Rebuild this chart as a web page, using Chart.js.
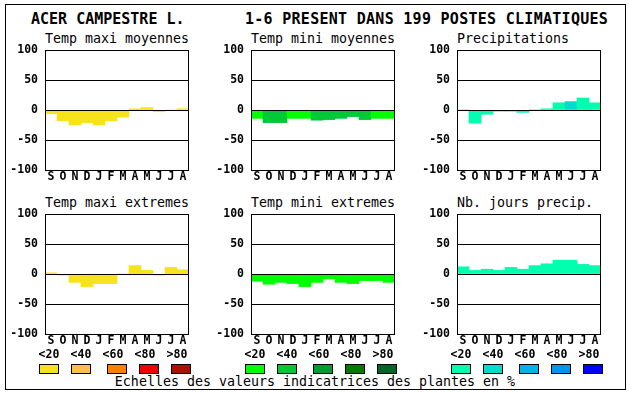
<!DOCTYPE html>
<html>
<head>
<meta charset="utf-8">
<script src="https://cdn.jsdelivr.net/npm/chart.js@4"></script>
<style>
  body { margin: 0; background: #fff; }
  #page { position: relative; width: 630px; height: 394px; overflow: hidden;
          font-family: "DejaVu Sans Mono", monospace; color: #000; }
  #cadre { position: absolute; left: 5px; top: 4px; width: 619px; height: 384px; border: 1px solid #000; }
  .txt { position: absolute; white-space: pre; line-height: 1; }
  .titre { font-size: 15px; font-weight: bold; top: 12px; }
  .sous { font-size: 13.3px; }
  .niv { font-size: 11.5px; font-weight: bold; top: 349px; width: 30px; margin-left: -15px; text-align: center; }
  .case { position: absolute; top: 364px; width: 18px; height: 8px; border: 1px solid #000; }
  canvas { position: absolute; }
</style>
</head>
<body>
<div id="page">
  <div id="cadre"></div>
  <div class="txt titre" style="left:31px">ACER CAMPESTRE L.</div>
  <div class="txt titre" style="left:245px;letter-spacing:0.28px">1-6 PRESENT DANS 199 POSTES CLIMATIQUES</div>
  <div class="txt sous" style="left:0;width:630px;text-align:center;top:375px">Echelles des valeurs indicatrices des plantes en %</div>
</div>
<script>
// mois de septembre à août
var MOIS = ["S", "O", "N", "D", "J", "F", "M", "A", "M", "J", "J", "A"];
var NIVEAUX = ["<20", "<40", "<60", "<80", ">80"];

// valeurs lues sur chaque graphique
var tempMaxiMoy = [-6, -18, -25, -21, -25, -18, -12, 2, 4, -3, 0, 2];
var tempMiniMoy = [-14, -21, -21, -14, -14, -17, -16, -14, -11, -16, -14, -14];
var precip      = [0, -22, -7, -2, -2, -4, 0, 2, 12, 14, 20, 12];
var tempMaxiExt = [2, -2, -14, -21, -16, -16, 0, 14, 6, -2, 11, 7];
var tempMiniExt = [-12, -17, -14, -16, -21, -14, -8, -14, -16, -11, -11, -14];
var joursPrecip = [12, 6, 8, 6, 11, 8, 14, 17, 23, 23, 16, 14];

// classe de chaque barre (0 = <20 ... 4 = >80)
var classeMaxiMoy = [0, 0, 0, 0, 0, 0, 0, 0, 0, 0, 0, 0];
var classeMiniMoy = [0, 1, 1, 0, 0, 1, 1, 1, 1, 1, 0, 0];
var classePrecip  = [0, 0, 0, 0, 0, 0, 0, 0, 0, 1, 0, 0];
var classeMaxiExt = [0, 0, 0, 0, 0, 0, 0, 0, 0, 0, 0, 0];
var classeMiniExt = [0, 0, 0, 0, 0, 0, 0, 0, 0, 0, 0, 0];
var classeJours   = [0, 0, 0, 0, 0, 0, 0, 0, 0, 0, 0, 0];

var JAUNES = ["#f7e31c", "#ffbd52", "#ff8000", "#ec0000", "#aa1100"];
var VERTS  = ["#00ff00", "#00c837", "#009b32", "#007a00", "#006424"];
var BLEUS  = ["#00ffae", "#00dccc", "#00b5e2", "#0096f0", "#0000ff"];

var FONT_AXE = { family: "DejaVu Sans Mono", size: 11.5, weight: "bold" };

// encadre la zone de tracé
var cadre = {
    id: "cadre",
    afterDraw: function (chart) {
        var a = chart.chartArea, ctx = chart.ctx;
        ctx.save();
        ctx.strokeStyle = "#000";
        ctx.lineWidth = 1;
        ctx.strokeRect(a.left + 0.5, a.top + 0.5, a.right - a.left - 1, a.bottom - a.top);
        ctx.restore();
    }
};

var page = document.getElementById("page");

function texte(cls, x, y, s) {
    var d = document.createElement("div");
    d.className = "txt " + cls;
    d.style.left = x + "px";
    if (y !== null) d.style.top = y + "px";
    d.textContent = s;
    page.appendChild(d);
}

function graphique(col, ligne, titre, valeurs, classes, palette) {
    var gauche = 45 + col * 206;      // bord gauche de la zone de tracé
    var haut = 50 + ligne * 164;      // bord haut de la zone de tracé

    texte("sous", gauche, haut - 18, titre);

    var c = document.createElement("canvas");
    c.width = 200;
    c.height = 150;
    c.style.left = (gauche - 45) + "px";
    c.style.top = (haut - 10) + "px";
    page.appendChild(c);

    new Chart(c.getContext("2d"), {
        type: "bar",
        data: {
            labels: MOIS,
            datasets: [{
                data: valeurs,
                backgroundColor: classes.map(function (k) { return palette[k]; }),
                borderWidth: 0,
                barPercentage: 1,
                categoryPercentage: 1
            }]
        },
        options: {
            responsive: false,
            animation: false,
            events: [],
            layout: { padding: { top: 10, right: 11, bottom: 4, left: 0 } },
            plugins: {
                legend: { display: false },
                tooltip: { enabled: false }
            },
            scales: {
                x: {
                    grid: { display: false, drawTicks: false },
                    border: { display: false },
                    ticks: { font: FONT_AXE, color: "#000", padding: 0, maxRotation: 0, autoSkip: false },
                    afterFit: function (s) { s.height = 16; s.paddingLeft = 0; s.paddingRight = 0; }
                },
                y: {
                    min: -100,
                    max: 100,
                    grid: { color: "#000", lineWidth: 1, drawTicks: false, z: 1 },
                    border: { display: false },
                    ticks: { stepSize: 50, font: FONT_AXE, color: "#000", padding: 7 },
                    afterFit: function (s) { s.width = 45; s.paddingTop = 0; s.paddingBottom = 0; }
                }
            }
        },
        plugins: [cadre]
    });

    // échelle de couleurs sous la colonne
    if (ligne === 1) {
        var decal = [-6, 26, 62, 94, 126];
        var centres = [4, 36, 68, 100, 132];
        NIVEAUX.forEach(function (n, i) {
            texte("niv", gauche + centres[i], null, n);
            var b = document.createElement("div");
            b.className = "case";
            b.style.left = (gauche + decal[i]) + "px";
            b.style.background = palette[i];
            page.appendChild(b);
        });
    }
}

graphique(0, 0, "Temp maxi moyennes", tempMaxiMoy, classeMaxiMoy, JAUNES);
graphique(1, 0, "Temp mini moyennes", tempMiniMoy, classeMiniMoy, VERTS);
graphique(2, 0, "Precipitations", precip, classePrecip, BLEUS);
graphique(0, 1, "Temp maxi extremes", tempMaxiExt, classeMaxiExt, JAUNES);
graphique(1, 1, "Temp mini extremes", tempMiniExt, classeMiniExt, VERTS);
graphique(2, 1, "Nb. jours precip.", joursPrecip, classeJours, BLEUS);
</script>
</body>
</html>
